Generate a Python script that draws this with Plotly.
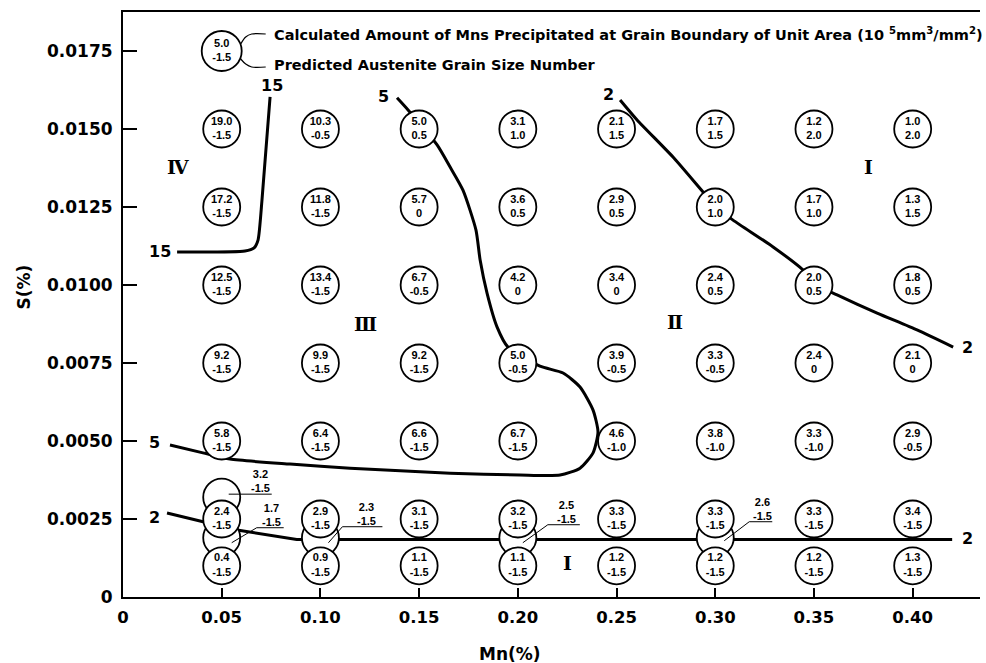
import plotly.graph_objects as go

# ---------------- data ----------------
MN_VALUES = [0.05, 0.10, 0.15, 0.20, 0.25, 0.30, 0.35, 0.40]
S_VALUES = [0.0150, 0.0125, 0.0100, 0.0075, 0.0050, 0.0025, 0.0010]
MNS_AMOUNT = [
    ["19.0", "10.3", "5.0", "3.1", "2.1", "1.7", "1.2", "1.0"],
    ["17.2", "11.8", "5.7", "3.6", "2.9", "2.0", "1.7", "1.3"],
    ["12.5", "13.4", "6.7", "4.2", "3.4", "2.4", "2.0", "1.8"],
    ["9.2", "9.9", "9.2", "5.0", "3.9", "3.3", "2.4", "2.1"],
    ["5.8", "6.4", "6.6", "6.7", "4.6", "3.8", "3.3", "2.9"],
    ["2.4", "2.9", "3.1", "3.2", "3.3", "3.3", "3.3", "3.4"],
    ["0.4", "0.9", "1.1", "1.1", "1.2", "1.2", "1.2", "1.3"],
]
GRAIN_SIZE = [
    ["-1.5", "-0.5", "0.5", "1.0", "1.5", "1.5", "2.0", "2.0"],
    ["-1.5", "-1.5", "0", "0.5", "0.5", "1.0", "1.0", "1.5"],
    ["-1.5", "-1.5", "-0.5", "0", "0", "0.5", "0.5", "0.5"],
    ["-1.5", "-1.5", "-1.5", "-0.5", "-0.5", "-0.5", "0", "0"],
    ["-1.5", "-1.5", "-1.5", "-1.5", "-1.0", "-1.0", "-1.0", "-0.5"],
    ["-1.5", "-1.5", "-1.5", "-1.5", "-1.5", "-1.5", "-1.5", "-1.5"],
    ["-1.5", "-1.5", "-1.5", "-1.5", "-1.5", "-1.5", "-1.5", "-1.5"],
]

EXTRA_MN = [0.05, 0.05, 0.10, 0.20, 0.30]
EXTRA_S = [0.0032, 0.0019, 0.0019, 0.0019, 0.0019]
EXTRA_AMOUNT = ["3.2", "1.7", "2.3", "2.5", "2.6"]
EXTRA_GRAIN = ["-1.5", "-1.5", "-1.5", "-1.5", "-1.5"]

LEGEND_MN = [0.05]
LEGEND_S = [0.0175]
LEGEND_AMOUNT = ["5.0"]
LEGEND_GRAIN = ["-1.5"]
LEGEND_LINES = [
    "Calculated Amount of Mns Precipitated at Grain Boundary of Unit Area (10 <sup>5</sup>mm<sup>3</sup>/mm<sup>2</sup>)",
    "Predicted Austenite Grain Size Number",
]

C15_MN = [0.0745, 0.0704, 0.0684, 0.0664, 0.0618, 0.0274]
C15_S = [0.01603, 0.01272, 0.01144, 0.01119, 0.01109, 0.01106]

C5_MN = [0.0238, 0.0405, 0.0542, 0.0846, 0.1150, 0.1657, 0.2011, 0.2214, 0.2315,
         0.2381, 0.2406, 0.2381, 0.2315, 0.2229, 0.2112, 0.1950, 0.1895, 0.1844,
         0.1809, 0.1788, 0.1722, 0.1657, 0.1591, 0.1444, 0.1388]
C5_S = [0.00487, 0.00462, 0.00442, 0.00426, 0.00413, 0.00397, 0.00391, 0.00391, 0.00413,
        0.00462, 0.00529, 0.00599, 0.00673, 0.00718, 0.00740, 0.00801, 0.00865, 0.00974,
        0.01080, 0.01176, 0.01304, 0.01378, 0.01449, 0.01561, 0.01600]

C2_UPPER_MN = [0.2518, 0.2604, 0.2786, 0.2938, 0.3004, 0.3090, 0.3293, 0.3445,
               0.3511, 0.3617, 0.3820, 0.4022, 0.4205]
C2_UPPER_S = [0.01593, 0.01529, 0.01410, 0.01298, 0.01250, 0.01208, 0.01122, 0.01048,
              0.01000, 0.00968, 0.00910, 0.00856, 0.00801]

C2_LOWER_MN = [0.0223, 0.0578, 0.0880, 0.4200]
C2_LOWER_S = [0.00269, 0.00215, 0.00184, 0.00184]

CONTOUR_LABELS = ["15", "15", "5", "5", "2", "2", "2", "2"]
CONTOUR_LABEL_MN = [0.0755, 0.0185, 0.1317, 0.0162, 0.2457, 0.4276, 0.0162, 0.4276]
CONTOUR_LABEL_S = [0.01641, 0.01108, 0.01603, 0.00494, 0.01609, 0.00801, 0.00256, 0.00189]

REGION_LABELS = ["Ⅳ", "Ⅲ", "Ⅱ", "Ⅰ", "Ⅰ"]
REGION_MN = [0.0279, 0.1226, 0.2796, 0.3774, 0.2249]
REGION_S = [0.01378, 0.00874, 0.00881, 0.01378, 0.00109]

X_TICKS = [0, 0.05, 0.10, 0.15, 0.20, 0.25, 0.30, 0.35, 0.40]
X_TICK_TEXT = ["0", "0.05", "0.10", "0.15", "0.20", "0.25", "0.30", "0.35", "0.40"]
Y_TICKS = [0, 0.0025, 0.0050, 0.0075, 0.0100, 0.0125, 0.0150, 0.0175]
Y_TICK_TEXT = ["0", "0.0025", "0.0050", "0.0075", "0.0100", "0.0125", "0.0150", "0.0175"]

# ---------------- layout / style ----------------
W, H = 986, 663
ML, MR, MT, MB = 123, 6, 12, 66
X_MAX, Y_MAX = 0.4341, 0.01875
KX = X_MAX / (W - ML - MR)
KY = Y_MAX / (H - MT - MB)

SANS = "Liberation Sans, Arial, sans-serif"
BIG = "DejaVu Sans, Arial, sans-serif"
SERIF = "DejaVu Serif, Liberation Serif, serif"
CIRCLE_SIZE = 37
CIRCLE_FONT = dict(family=SANS, size=11, color="black", weight="bold")

# callout pixel offsets (screen px, +y down) relative to each extra circle
CALLOUT_TEXT_OFFSETS = [(39, -16), (50, -23), (46, -24), (49, -26), (47, -29)]
LEADER_OFFSETS = [
    [(7, -3), (50, -3)],
    [(10, 5), (35, -10), (62, -10)],
    [(8, 5), (22, -11), (62, -11)],
    [(5, 5), (30, -13), (62, -13)],
    [(9, 3), (34, -16), (57, -16)],
]
BRACKET_OFFSETS = [[(19, -7), (24, -14), (30, -17), (44, -17)],
                   [(19, 8), (24, 13), (30, 16), (44, 16)]]
LEGEND_TEXT_OFFSETS = [(50, -17), (50, 14)]

fig = go.Figure()

contour_style = dict(mode="lines", line=dict(color="black", width=3, shape="spline", smoothing=0.6),
                     hoverinfo="skip", showlegend=False)
fig.add_trace(go.Scatter(x=C15_MN, y=C15_S, **contour_style))
fig.add_trace(go.Scatter(x=C5_MN, y=C5_S, **contour_style))
fig.add_trace(go.Scatter(x=C2_UPPER_MN, y=C2_UPPER_S, **contour_style))
fig.add_trace(go.Scatter(x=C2_LOWER_MN, y=C2_LOWER_S, mode="lines",
                         line=dict(color="black", width=3), hoverinfo="skip", showlegend=False))

circle_marker = dict(symbol="circle", size=CIRCLE_SIZE, color="white",
                     line=dict(color="black", width=1.8))

fig.add_trace(go.Scatter(x=EXTRA_MN, y=EXTRA_S, mode="markers", marker=circle_marker,
                         hoverinfo="skip", showlegend=False))

gx, gy, gt = [], [], []
for i, s in enumerate(S_VALUES):
    for j, mn in enumerate(MN_VALUES):
        gx.append(mn)
        gy.append(s)
        gt.append(f"{MNS_AMOUNT[i][j]}<br>{GRAIN_SIZE[i][j]}")
fig.add_trace(go.Scatter(x=gx, y=gy, mode="markers+text", marker=circle_marker,
                         text=gt, textposition="middle center", textfont=CIRCLE_FONT,
                         hoverinfo="skip", showlegend=False))

fig.add_trace(go.Scatter(x=LEGEND_MN, y=LEGEND_S, mode="markers+text",
                         marker=dict(symbol="circle", size=40, color="white",
                                     line=dict(color="black", width=1.8)),
                         text=[f"{LEGEND_AMOUNT[0]}<br>{LEGEND_GRAIN[0]}"],
                         textposition="middle center", textfont=CIRCLE_FONT,
                         hoverinfo="skip", showlegend=False))

lx, ly = [], []
for k in range(len(EXTRA_MN)):
    for dx, dy in LEADER_OFFSETS[k]:
        lx.append(EXTRA_MN[k] + dx * KX)
        ly.append(EXTRA_S[k] - dy * KY)
    lx.append(None)
    ly.append(None)
fig.add_trace(go.Scatter(x=lx, y=ly, mode="lines", line=dict(color="black", width=1),
                         hoverinfo="skip", showlegend=False))

bx, by = [], []
for path in BRACKET_OFFSETS:
    for dx, dy in path:
        bx.append(LEGEND_MN[0] + dx * KX)
        by.append(LEGEND_S[0] - dy * KY)
    bx.append(None)
    by.append(None)
fig.add_trace(go.Scatter(x=bx, y=by, mode="lines",
                         line=dict(color="black", width=1.2, shape="spline"),
                         hoverinfo="skip", showlegend=False))

annotations = []
for k in range(len(EXTRA_MN)):
    dx, dy = CALLOUT_TEXT_OFFSETS[k]
    annotations.append(dict(x=EXTRA_MN[k], y=EXTRA_S[k], xref="x", yref="y",
                            xshift=dx, yshift=-dy, showarrow=False,
                            text=f"{EXTRA_AMOUNT[k]}<br>{EXTRA_GRAIN[k]}",
                            font=CIRCLE_FONT, align="center"))
for k, txt in enumerate(LEGEND_LINES):
    dx, dy = LEGEND_TEXT_OFFSETS[k]
    annotations.append(dict(x=LEGEND_MN[0], y=LEGEND_S[0], xref="x", yref="y",
                            xshift=dx, yshift=-dy, showarrow=False, xanchor="left",
                            text=txt, font=dict(family=BIG, size=14.5, color="black", weight="bold")))
for k, txt in enumerate(CONTOUR_LABELS):
    annotations.append(dict(x=CONTOUR_LABEL_MN[k], y=CONTOUR_LABEL_S[k], xref="x", yref="y",
                            showarrow=False, text=txt,
                            font=dict(family=BIG, size=16, color="black", weight="bold")))
for k, txt in enumerate(REGION_LABELS):
    annotations.append(dict(x=REGION_MN[k], y=REGION_S[k], xref="x", yref="y",
                            showarrow=False, text=txt,
                            font=dict(family=SERIF, size=19, color="black", weight="bold")))
annotations.append(dict(x=0.452, y=-0.118, xref="paper", yref="paper", showarrow=False,
                        text="Mn(%)", font=dict(family=BIG, size=17, color="black", weight="bold")))
annotations.append(dict(x=-0.13, y=0.53, xref="paper", yref="paper", showarrow=False,
                        text="S(%)", textangle=-90,
                        font=dict(family=BIG, size=17, color="black", weight="bold")))

x_tick_font = dict(family=BIG, size=16.5, color="black", weight="bold")
y_tick_font = dict(family=BIG, size=17, color="black", weight="bold")
fig.update_layout(
    width=W, height=H,
    margin=dict(l=ML, r=MR, t=MT, b=MB, pad=0),
    paper_bgcolor="white", plot_bgcolor="white",
    showlegend=False,
    annotations=annotations,
    xaxis=dict(range=[0, X_MAX], tickvals=X_TICKS, ticktext=X_TICK_TEXT,
               ticks="inside", ticklen=9, tickwidth=1.5, tickcolor="black",
               showline=True, linewidth=2, linecolor="black", mirror=True,
               showgrid=False, zeroline=False, tickfont=x_tick_font, ticklabelstandoff=4),
    yaxis=dict(range=[0, Y_MAX], tickvals=Y_TICKS, ticktext=Y_TICK_TEXT,
               ticks="inside", ticklen=14, tickwidth=1.5, tickcolor="black",
               showline=True, linewidth=2, linecolor="black", mirror=False,
               showgrid=False, zeroline=False, tickfont=y_tick_font, ticklabelstandoff=5),
)

fig.write_html("out.html")
